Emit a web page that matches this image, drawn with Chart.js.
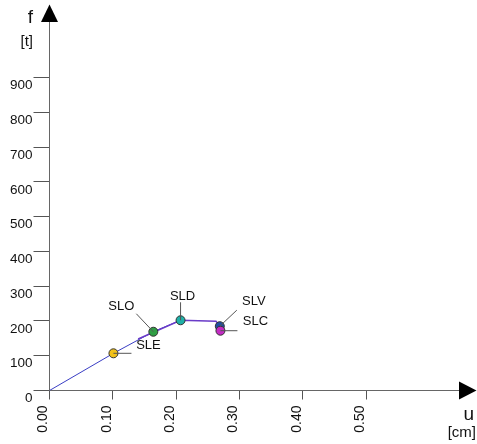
<!DOCTYPE html>
<html>
<head>
<meta charset="utf-8">
<script src="https://cdn.jsdelivr.net/npm/chart.js@4"></script>
<style>
  html, body { margin: 0; padding: 0; background: #fff; }
  #wrap { width: 477px; height: 444px; position: relative; }
</style>
</head>
<body>
<div id="wrap"><canvas id="c" width="477" height="444"></canvas></div>
<script>
// ---- data ----
const xTickValues = [0, 0.1, 0.2, 0.3, 0.4, 0.5];
const yTickValues = [0, 100, 200, 300, 400, 500, 600, 700, 800, 900];
const curveU = [0, 0.101, 0.164, 0.207];
const curveF = [0, 107, 169, 202];
const branchU = [0.140, 0.207, 0.263, 0.269, 0.270];
const branchF = [148, 202, 199, 185, 172];
const stateNames = ['SLE', 'SLO', 'SLD', 'SLV', 'SLC'];
const stateU = [0.101, 0.164, 0.207, 0.269, 0.270];
const stateF = [107, 169, 202, 185, 172];
const stateColors = ['#f2c21b', '#2f9e44', '#1fb0a8', '#1f4fa0', '#c42bc4'];
const xTitle = ['u', '[cm]'];
const yTitle = ['f', '[t]'];

// label placement (pixel offsets relative to each marker): leader end, text centre
const leaderEnd = [[18, 0], [-17, -18], [0, -18], [17, -16], [17, 0]];
const textPos = [[35, -8], [-32, -25], [2, -24], [34, -25], [35, -9]];

const FONT = '"Liberation Sans", Arial, sans-serif';

const toXY = (us, fs) => us.map((u, i) => ({ x: u, y: fs[i] }));

const decor = {
  id: 'decor',
  afterDatasetsDraw(chart) {
    const ctx = chart.ctx;
    const xs = chart.scales.x, ys = chart.scales.y;
    ctx.save();
    ctx.strokeStyle = '#555';
    ctx.lineWidth = 1;
    ctx.fillStyle = '#111';
    ctx.font = '13px ' + FONT;
    ctx.textAlign = 'center';
    ctx.textBaseline = 'middle';
    stateNames.forEach((n, i) => {
      const px = xs.getPixelForValue(stateU[i]);
      const py = ys.getPixelForValue(stateF[i]);
      ctx.beginPath();
      ctx.moveTo(px, py);
      ctx.lineTo(px + leaderEnd[i][0], py + leaderEnd[i][1]);
      ctx.stroke();
      ctx.fillText(n, px + textPos[i][0], py + textPos[i][1]);
    });
    ctx.restore();
  },
  afterDraw(chart) {
    const ctx = chart.ctx;
    const ca = chart.chartArea;
    const x0 = chart.scales.x.getPixelForValue(0);
    const y0 = chart.scales.y.getPixelForValue(0);
    ctx.save();
    ctx.fillStyle = '#000';
    ctx.beginPath();
    ctx.moveTo(x0 - 8.5, ca.top);
    ctx.lineTo(x0 + 8.5, ca.top);
    ctx.lineTo(x0, ca.top - 17.5);
    ctx.closePath();
    ctx.fill();
    ctx.beginPath();
    ctx.moveTo(ca.right - 2, y0 - 9);
    ctx.lineTo(ca.right - 2, y0 + 9);
    ctx.lineTo(ca.right + 15.5, y0);
    ctx.closePath();
    ctx.fill();
    ctx.fillStyle = '#111';
    ctx.textAlign = 'right';
    ctx.textBaseline = 'alphabetic';
    ctx.font = '19px ' + FONT;
    ctx.fillText(yTitle[0], 33, 23);
    ctx.font = '15px ' + FONT;
    ctx.fillText(yTitle[1], 33, 46);
    ctx.font = '19px ' + FONT;
    ctx.fillText(xTitle[0], 474, 420);
    ctx.font = '15px ' + FONT;
    ctx.fillText(xTitle[1], 476, 437);
    ctx.restore();
  }
};

new Chart(document.getElementById('c'), {
  type: 'scatter',
  data: {
    datasets: [
      {
        label: 'states',
        data: toXY(stateU, stateF),
        showLine: false,
        pointRadius: 4.5,
        pointBorderWidth: 1,
        pointBackgroundColor: stateColors,
        pointBorderColor: '#333',
        order: 0
      },
      {
        label: 'branch',
        data: toXY(branchU, branchF),
        showLine: true,
        borderColor: '#6a3cc8',
        borderWidth: 1.5,
        pointRadius: 0,
        order: 1
      },
      {
        label: 'curve',
        data: toXY(curveU, curveF),
        showLine: true,
        borderColor: '#3a3ec4',
        borderWidth: 1,
        pointRadius: 0,
        order: 2
      }
    ]
  },
  options: {
    responsive: false,
    animation: false,
    devicePixelRatio: 1,
    layout: { padding: { top: 22, right: 16, left: 0, bottom: 0 } },
    plugins: { legend: { display: false }, tooltip: { enabled: false } },
    scales: {
      x: {
        type: 'linear',
        min: 0,
        max: 0.65,
        afterFit(s) { s.height = 53.5; },
        afterBuildTicks(s) { s.ticks = xTickValues.map(v => ({ value: v })); },
        border: { display: true, color: '#666', width: 1 },
        grid: { display: true, drawOnChartArea: false, drawTicks: true, tickLength: 9, tickColor: '#555' },
        ticks: {
          minRotation: 90, maxRotation: 90, autoSkip: false,
          padding: 6, labelOffset: -6,
          color: '#111', font: { family: FONT, size: 14 },
          callback: v => Number(v).toFixed(2)
        }
      },
      y: {
        type: 'linear',
        min: 0,
        max: 1060,
        afterFit(s) { s.width = 49.5; },
        afterBuildTicks(s) { s.ticks = yTickValues.map(v => ({ value: v })); },
        border: { display: true, color: '#666', width: 1 },
        grid: { display: true, drawOnChartArea: false, drawTicks: true, tickLength: 16, tickColor: '#555' },
        ticks: {
          autoSkip: false, padding: 1, labelOffset: 8,
          color: '#111', font: { family: FONT, size: 13.5 },
          callback: v => String(v)
        }
      }
    }
  },
  plugins: [decor]
});
</script>
</body>
</html>
